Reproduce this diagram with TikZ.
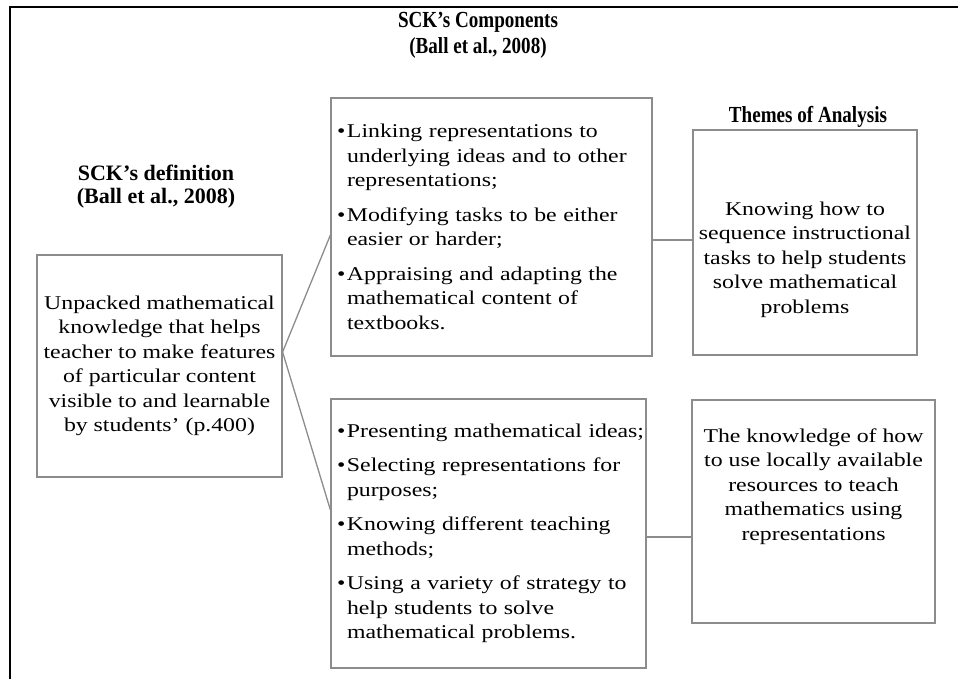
\documentclass[tikz,border=0pt]{standalone}
\usepackage{fontspec}
\setmainfont{Liberation Serif}[FakeStretch=1.22]
\newfontfamily\headfont{Liberation Serif}[FakeStretch=0.83,Ligatures=TeX]
\newfontfamily\plainfont{Liberation Serif}[Ligatures=TeX]
\definecolor{boxgrey}{HTML}{8C8C8C}
\newcommand\bitem{\makebox[10pt][l]{\textbullet}}
\newcommand\bcont{\hspace*{10pt}}
\tikzset{
  box/.style={draw=boxgrey, line width=1.2pt, inner sep=0pt,
    font=\fontsize{19.5}{24.5}\selectfont},
  listbox/.style={box, inner xsep=6pt, align=left},
  boxtext/.style={font=\fontsize{19.5}{24.5}\selectfont, align=center},
  head/.style={font=\headfont\bfseries\fontsize{23}{26}\selectfont, align=center},
  link/.style={draw=boxgrey, line width=1.3pt}
}
\begin{document}
\begin{tikzpicture}[x=1pt,y=-1pt]
  \useasboundingbox (0,0) rectangle (958,679);
  \draw[line width=2.5pt] (958,7) -- (10,7) -- (10,679);

  \node[head] (comphead) at (478,35) {SCK’s Components\\(Ball et al., 2008)};
  \node[head] (themehead) at (808,117) {Themes of Analysis};
  \node[head, font=\plainfont\bfseries\fontsize{22}{23}\selectfont] (defhead) at (156,187)
    {SCK’s definition\\(Ball et al., 2008)};

  \node[box, minimum width=245pt, minimum height=222pt, align=center] (def) at (159.5,366)
    {Unpacked mathematical\\knowledge that helps\\teacher to make features\\of particular content\\visible to and learnable\\by students’ (p.400)};
  \node[listbox, text width=309pt, minimum height=258pt] (comp1) at (491.5,227)
    {\bitem \mbox{Linking representations to}\\\bcont \mbox{underlying ideas and to other}\\\bcont representations;\\[10pt]
     \bitem \mbox{Modifying tasks to be either}\\\bcont easier or harder;\\[10pt]
     \bitem \mbox{Appraising and adapting the}\\\bcont mathematical content of\\\bcont textbooks.};
  \node[listbox, text width=303pt, minimum height=269pt] (comp2) at (488.5,533.5)
    {\bitem \mbox{Presenting mathematical ideas;}\\[10pt]
     \bitem \mbox{Selecting representations for}\\\bcont purposes;\\[10pt]
     \bitem \mbox{Knowing different teaching}\\\bcont methods;\\[10pt]
     \bitem \mbox{Using a variety of strategy to}\\\bcont help students to solve\\\bcont \mbox{mathematical problems.}};
  \node[box, minimum width=224pt, minimum height=225pt,
    label={[boxtext, yshift=-17pt]center:{Knowing how to\\sequence instructional\\tasks to help students\\solve mathematical\\problems}}]
    (theme1) at (805,242.5) {};
  \node[box, minimum width=243pt, minimum height=223pt,
    label={[boxtext, yshift=25pt]center:{The knowledge of how\\to use locally available\\resources to teach\\mathematics using\\representations}}]
    (theme2) at (813.5,511.5) {};

  \coordinate (split) at ([yshift=14pt]def.east);
  \coordinate (out1) at ([yshift=-13pt]comp1.east);
  \coordinate (out2) at ([yshift=-3.5pt]comp2.east);
  \draw[link] (split) -- ([yshift=-8pt]comp1.west);
  \draw[link] (split) -- ([yshift=23.5pt]comp2.west);
  \draw[link] (out1) -- (out1 -| theme1.west);
  \draw[link] (out2) -- (out2 -| theme2.west);
\end{tikzpicture}
\end{document}
